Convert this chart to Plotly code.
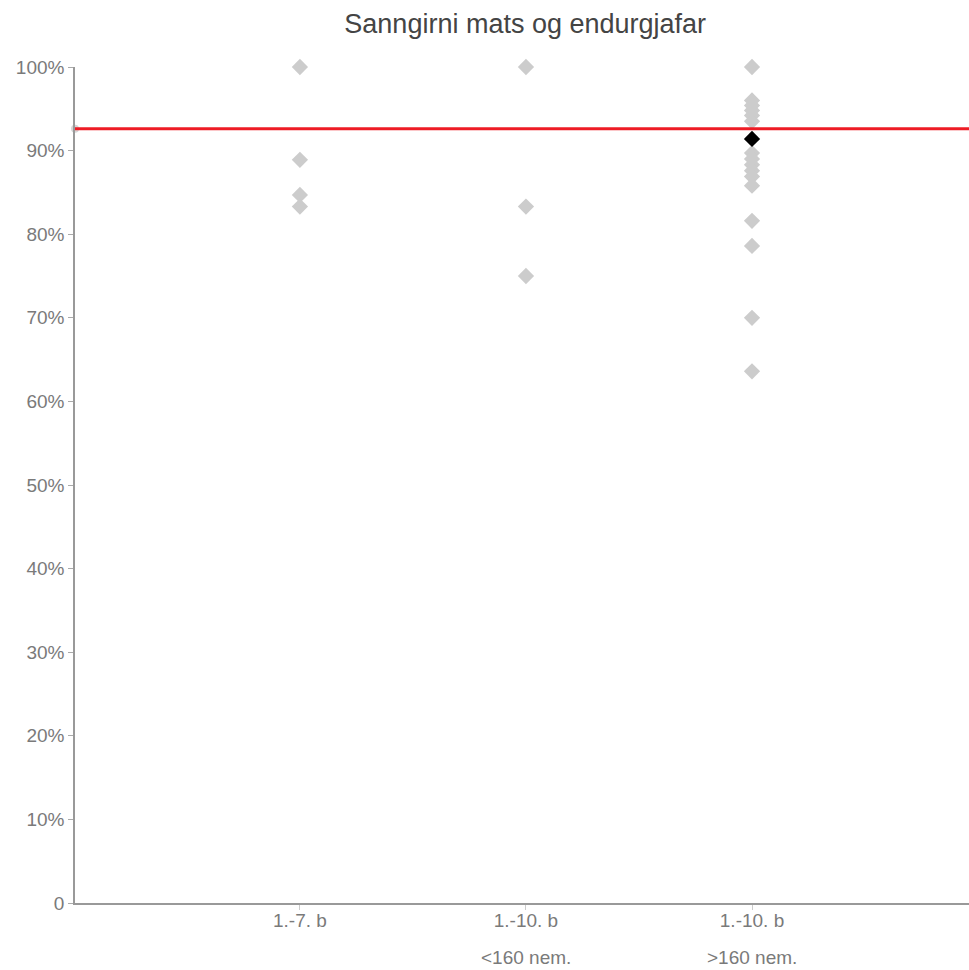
import plotly.graph_objects as go

categories = ["1.-7. b", "1.-10. b", "1.-10. b"]
sub_labels = ["", "<160 nem.", ">160 nem."]
cat_pos = [0, 1, 2]

group1 = [100.0, 88.9, 84.7, 83.3]
group2 = [100.0, 83.3, 75.0]
group3 = [100.0, 96.0, 95.4, 94.8, 94.2, 93.5, 89.7, 89.0, 88.3, 87.6, 86.9, 85.8,
          81.6, 78.6, 70.0, 63.6]
highlight = [91.4]
average = 92.6

y_ticks = [0, 10, 20, 30, 40, 50, 60, 70, 80, 90, 100]
y_ticktext = ["0"] + [f"{v}%" for v in y_ticks[1:]]

grey = "#cccccc"
tick_color = "#7a7a7a"
fig = go.Figure()
for pos, vals in zip(cat_pos, [group1, group2, group3]):
    fig.add_trace(go.Scatter(
        x=[pos] * len(vals), y=vals, mode="markers",
        marker=dict(symbol="diamond", size=12.5, color=grey),
        showlegend=False, cliponaxis=False))
fig.add_trace(go.Scatter(
    x=[cat_pos[2]], y=highlight, mode="markers",
    marker=dict(symbol="diamond", size=12.5, color="black"),
    showlegend=False))
fig.add_trace(go.Scatter(
    x=[-0.995], y=[average], mode="markers",
    marker=dict(symbol="circle", size=8, color="#d6d6d6"),
    showlegend=False, cliponaxis=False))
fig.add_hline(y=average, line=dict(color="#ee1c25", width=3))

for pos, sub in zip(cat_pos, sub_labels):
    if sub:
        fig.add_annotation(x=pos, y=-54 / 836, xref="x", yref="paper",
                           text=sub, showarrow=False, yanchor="middle",
                           font=dict(size=19, color=tick_color))

fig.update_layout(
    width=969, height=970,
    margin=dict(l=75, r=0, t=67, b=67),
    paper_bgcolor="white", plot_bgcolor="white",
    font=dict(family="Liberation Sans, Arial, sans-serif", color=tick_color, size=19),
    title=dict(text="Sanngirni mats og endurgjafar", x=0.542, xanchor="center",
               y=1 - 24 / 970, yanchor="middle",
               font=dict(size=27, color="#444444")),
    xaxis=dict(range=[-0.995, 2.96], tickvals=cat_pos, ticktext=categories,
               showgrid=False, zeroline=False, showline=True, linecolor="#999999",
               linewidth=1.5, ticks="outside", ticklen=5, tickcolor="#cccccc",
               ticklabelstandoff=-6),
    yaxis=dict(range=[0, 100], tickvals=y_ticks, ticktext=y_ticktext,
               showgrid=False, zeroline=False, showline=True, linecolor="#999999",
               linewidth=1.5, ticks="outside", ticklen=5, tickcolor="#aaaaaa"),
)

fig.write_html("out.html", config={"displayModeBar": False},
               post_script="document.body.style.margin='0';document.body.style.overflow='hidden';")
